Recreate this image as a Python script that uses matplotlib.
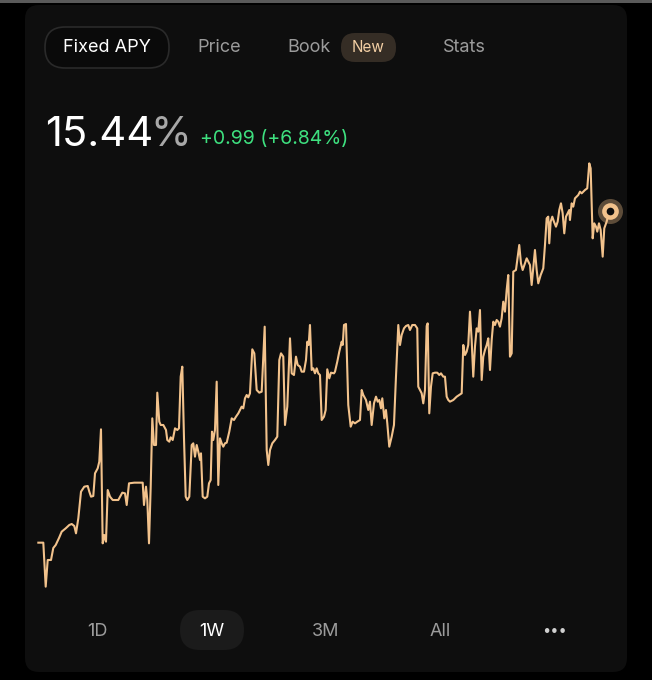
import matplotlib
matplotlib.use("Agg")
import matplotlib.pyplot as plt
from matplotlib.patches import FancyBboxPatch

# ---- data (hours since start of week, fixed APY %) ----
hours = [0.1, 1.56, 2.26, 2.85, 3.82, 4.49, 5.20, 6.17, 6.96, 8.14, 9.19, 9.90, 10.66, 11.16, 11.84,
         12.63, 13.60, 14.60, 15.07, 15.57, 16.24, 16.74, 17.53, 18.00, 18.50, 19.00, 19.47, 19.97, 20.47,
         21.15, 21.94, 23.58, 24.76, 25.55, 26.05, 26.73, 28.28, 30.75, 31.13, 31.72, 32.10, 32.60, 33.10,
         33.57, 34.07, 34.66, 35.04, 35.62, 36.04, 36.80, 37.59, 37.97, 38.56, 38.97, 39.56, 40.24, 40.91,
         41.41, 41.91, 42.38, 42.88, 43.38, 43.85, 44.44, 45.14, 45.61, 46.11, 46.61, 47.08, 47.58, 47.87,
         48.37, 49.05, 49.72, 50.22, 50.72, 51.10, 51.48, 51.98, 52.48, 52.95, 53.45, 53.95, 54.42, 54.92,
         55.42, 56.18, 56.89, 57.56, 58.15, 58.83, 59.33, 59.82, 60.29, 60.79, 61.29, 61.76, 62.26, 62.94,
         63.53, 64.23, 64.99, 65.70, 66.58, 67.17, 67.64, 68.14, 68.81, 69.60, 70.28, 70.87, 71.37, 72.04,
         72.54, 73.22, 74.01, 74.51, 75.18, 75.77, 76.27, 76.95, 77.44, 78.12, 78.71, 79.09, 79.50, 79.88,
         80.38, 80.85, 81.35, 81.85, 82.32, 82.82, 83.32, 84.00, 84.49, 84.96, 85.55, 86.05, 86.93, 87.23,
         87.90, 88.49, 89.19, 89.49, 89.87, 90.46, 91.13, 91.84, 92.42, 93.10, 93.78, 94.57, 95.07, 95.54,
         96.33, 97.00, 97.50, 98.00, 98.68, 99.27, 99.77, 100.24, 100.74, 101.12, 101.71, 102.20, 102.59,
         103.17, 103.88, 104.55, 105.14, 105.82, 106.32, 106.81, 107.49, 108.08, 108.75, 109.25, 109.93,
         110.72, 111.39, 111.69, 112.19, 112.69, 113.16, 113.66, 114.16, 114.45, 114.92, 115.42, 115.92,
         116.59, 117.27, 117.86, 118.36, 119.03, 119.53, 120.03, 120.50, 121.00, 121.97, 122.97, 124.44,
         124.91, 125.41, 125.90, 126.37, 126.87, 127.37, 127.84, 128.34, 128.84, 129.31, 129.81, 130.31,
         130.78, 131.28, 131.78, 132.25, 132.75, 133.25, 133.72, 134.22, 134.71, 135.18, 135.68, 136.18,
         136.65, 137.15, 137.65, 138.12, 138.62, 139.12, 139.59, 140.38, 140.76, 141.35, 141.85, 142.35,
         143.03, 143.53, 144.00, 144.50, 144.99, 145.96, 146.46, 146.93, 147.64, 148.40, 148.90, 149.40,
         149.87, 150.16, 150.57, 151.05, 151.54, 152.13, 152.63, 153.10, 153.60, 154.10, 154.57, 155.07,
         155.57, 156.04, 156.24, 156.74, 157.21, 157.71, 158.21, 158.68, 159.18, 159.68, 160.15, 160.65,
         161.32, 161.91, 162.32, 162.91, 163.38, 163.88, 164.26, 164.76, 165.26, 165.85, 166.32, 167.02,
         167.69, 168.0]

apy = [14.445, 14.445, 14.313, 14.393, 14.393, 14.429, 14.438, 14.459, 14.478, 14.488, 14.498, 14.501,
       14.495, 14.473, 14.518, 14.598, 14.613, 14.615, 14.598, 14.583, 14.585, 14.653, 14.668, 14.688,
       14.785, 14.443, 14.468, 14.448, 14.603, 14.583, 14.573, 14.573, 14.595, 14.593, 14.558, 14.623,
       14.625, 14.625, 14.558, 14.613, 14.573, 14.443, 14.613, 14.818, 14.738, 14.738, 14.895, 14.808,
       14.798, 14.798, 14.783, 14.753, 14.748, 14.761, 14.753, 14.788, 14.783, 14.788, 14.943, 14.973,
       14.758, 14.583, 14.573, 14.583, 14.738, 14.743, 14.703, 14.738, 14.718, 14.693, 14.713, 14.583,
       14.578, 14.583, 14.623, 14.633, 14.778, 14.753, 14.783, 14.928, 14.618, 14.758, 14.743, 14.733,
       14.743, 14.745, 14.778, 14.818, 14.813, 14.823, 14.833, 14.843, 14.853, 14.848, 14.878, 14.888,
       14.881, 14.893, 15.025, 15.013, 14.903, 14.895, 14.898, 15.093, 14.723, 14.678, 14.723, 14.743,
       14.753, 14.763, 14.993, 15.013, 15.003, 14.798, 14.853, 15.058, 14.953, 14.948, 15.003, 14.978,
       14.973, 14.958, 14.958, 14.993, 15.048, 15.038, 15.098, 14.963, 14.968, 14.953, 14.968, 14.953,
       14.948, 14.813, 14.823, 14.843, 14.965, 14.938, 14.955, 14.953, 14.958, 14.988, 15.018, 15.048,
       15.038, 15.098, 15.101, 14.858, 14.793, 14.808, 14.803, 14.808, 14.813, 14.903, 14.888, 14.873,
       14.843, 14.868, 14.798, 14.863, 14.883, 14.868, 14.873, 14.848, 14.878, 14.818, 14.843, 14.803,
       14.733, 14.763, 14.798, 14.943, 15.098, 15.038, 15.068, 15.088, 15.095, 15.098, 15.083, 15.098,
       15.098, 15.088, 14.913, 14.903, 14.893, 14.863, 14.903, 15.095, 15.103, 14.833, 14.913, 14.953,
       14.955, 14.955, 14.948, 14.953, 14.943, 14.943, 14.883, 14.873, 14.868, 14.873, 14.883, 14.893,
       15.038, 15.008, 15.018, 15.038, 15.138, 15.053, 14.943, 15.033, 15.088, 15.078, 15.143, 14.933,
       15.003, 15.023, 15.038, 15.058, 14.963, 15.053, 15.108, 15.098, 15.113, 15.108, 15.093, 15.118,
       15.168, 15.138, 15.203, 15.248, 15.003, 15.013, 15.258, 15.263, 15.293, 15.338, 15.283, 15.263,
       15.283, 15.298, 15.288, 15.278, 15.218, 15.323, 15.263, 15.223, 15.248, 15.268, 15.338, 15.418,
       15.423, 15.343, 15.408, 15.423, 15.408, 15.393, 15.408, 15.443, 15.463, 15.433, 15.373, 15.423,
       15.433, 15.443, 15.413, 15.463, 15.453, 15.478, 15.483, 15.488, 15.498, 15.493, 15.498, 15.503,
       15.508, 15.583, 15.568, 15.358, 15.403, 15.393, 15.378, 15.403, 15.383, 15.303, 15.388, 15.408,
       15.438, 15.44]

tabs = ["Fixed APY", "Price", "Book", "Stats"]
badge = "New"
current_value = "15.44"
change_text = "+0.99 (+6.84%)"
ranges = ["1D", "1W", "3M", "All", "\u2022\u2022\u2022"]

# ---- style ----
FONT = ["Inter", "DejaVu Sans"]
plt.rcParams["font.family"] = FONT
W, H = 652, 680
OUTER = "#000000"
PANEL = "#0e0e0e"
LINE = "#f2c28c"
GRAY = "#9b9b9b"

fig = plt.figure(figsize=(W / 100, H / 100), dpi=100, facecolor=OUTER)

# background layer in pixel units (y downward)
bg = fig.add_axes([0, 0, 1, 1])
bg.set_xlim(0, W)
bg.set_ylim(H, 0)
bg.axis("off")
bg.add_patch(plt.Rectangle((0, 0), W, 2.5, color="#5a5a5a", lw=0))
bg.add_patch(FancyBboxPatch((25 + 14, 5 + 14), 602 - 28, 667 - 28,
                            boxstyle="round,pad=14", fc=PANEL, ec="none"))

# tabs
bg.add_patch(FancyBboxPatch((45 + 20, 27 + 20), 124 - 40, 41 - 40,
                            boxstyle="round,pad=20", fc="#0a0a0a", ec="#2a2a2a", lw=1.2))
tab_x = [107, 219, 309, 464]
for i, (t, x) in enumerate(zip(tabs, tab_x)):
    bg.text(x, 52, t, color="#ffffff" if i == 0 else GRAY, fontsize=13,
            ha="center", va="baseline")
bg.add_patch(FancyBboxPatch((341 + 14, 33 + 14), 55 - 28, 29 - 28,
                            boxstyle="round,pad=14", fc="#352d25", ec="none"))
bg.text(368, 51.5, badge, color="#f3cfa4", fontsize=11, ha="center", va="baseline")

# header value
bg.text(45, 146, current_value, color="#ffffff", fontsize=30, ha="left", va="baseline")
bg.text(150, 146, "%", color="#a8a8a8", fontsize=30, ha="left", va="baseline")
bg.text(200, 144, change_text, color="#3ee07f", fontsize=14, ha="left", va="baseline")

# range buttons
bg.add_patch(FancyBboxPatch((180 + 20, 610 + 20), 64 - 40, 40 - 40,
                            boxstyle="round,pad=20", fc="#1b1b1b", ec="none"))
range_x = [97, 212, 326, 440, 554]
for r, x in zip(ranges, range_x):
    if r == ranges[-1]:
        bg.text(x, 631, r, color="#d0d0d0", fontsize=10.5, ha="center", va="center")
    else:
        bg.text(x, 636, r, color="#ffffff" if r == "1W" else GRAY,
                fontsize=13, ha="center", va="baseline")

# chart axes (positioned over panel)
px_l, px_r, py_t, py_b = 38, 610, 150, 600
ax = fig.add_axes([px_l / W, 1 - py_b / H, (px_r - px_l) / W, (py_b - py_t) / H])
ax.set_facecolor("none")
ax.axis("off")
ax.plot(hours, apy, color=LINE, lw=1.5, solid_joinstyle="round", clip_on=False)
ax.plot(hours[-1], apy[-1], "o", ms=18, color=LINE, alpha=0.35, mec="none", clip_on=False)
ax.plot(hours[-1], apy[-1], "o", ms=12, color=LINE, mec="none", clip_on=False)
ax.plot(hours[-1], apy[-1], "o", ms=5.5, color="#0e0e0e", mec="none", clip_on=False)
ax.set_xlim(0, 168)
ax.set_ylim(15.44 - (py_b - 211) * 0.003, 15.44 + (211 - py_t) * 0.003)

fig.savefig("out.png", dpi=100, facecolor=OUTER)
